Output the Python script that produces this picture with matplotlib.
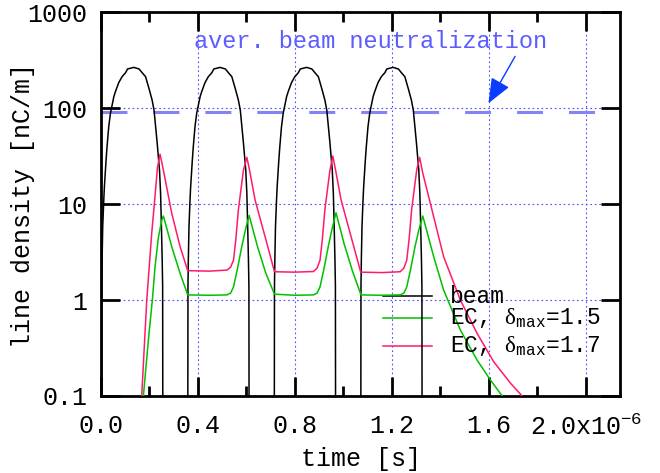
import numpy as np
import matplotlib
matplotlib.use("Agg")
import matplotlib.pyplot as plt

plt.rcParams['font.family'] = ['Liberation Mono', 'DejaVu Sans']
plt.rcParams['mathtext.fontset'] = 'custom'
plt.rcParams['mathtext.rm'] = 'Liberation Mono'
plt.rcParams['mathtext.sf'] = 'Liberation Serif'

# beam: one bunch profile (offset from bunch start in us, nC/m) and bunch starts
bunch_start = [0.002, 0.358, 0.715, 1.072]
bunch_offset = [0.0, 0.001, 0.0025, 0.0052, 0.0095, 0.012, 0.019, 0.023, 0.030,
                0.037, 0.051, 0.0576, 0.0714, 0.085, 0.0994, 0.1076, 0.1335,
                0.1553, 0.168, 0.182, 0.196, 0.209, 0.217, 0.230, 0.2395,
                0.244, 0.247, 0.2505, 0.2525, 0.2535]
bunch_profile = [0.01, 1.4, 2.6, 5.8, 11, 15, 28.7, 39.5, 64,
                 88, 131, 148, 184, 212, 233, 255, 265,
                 255, 233, 212, 160, 121, 95, 43, 22.6,
                 12.9, 6.5, 2.7, 1.4, 0.01]

# electron cloud, delta_max = 1.5 (time in us, nC/m)
ec15_t = [0.175, 0.1955, 0.212, 0.223, 0.237, 0.251, 0.2575,
          0.292, 0.326, 0.358, 0.45, 0.52, 0.535, 0.547, 0.563, 0.581, 0.597, 0.6115,
          0.646, 0.680, 0.716, 0.80, 0.877, 0.892, 0.904, 0.920, 0.938, 0.955, 0.970,
          1.004, 1.038, 1.073, 1.16, 1.235, 1.250, 1.262, 1.278, 1.296, 1.312, 1.328,
          1.373, 1.414, 1.483, 1.552, 1.607, 1.656, 1.68]
ec15_v = [0.1, 0.38, 1.0, 2.2, 4.5, 6.8, 7.5,
          3.6, 1.91, 1.13, 1.12, 1.13, 1.18, 1.37, 2.1, 3.6, 5.5, 7.6,
          3.6, 1.91, 1.15, 1.12, 1.13, 1.18, 1.37, 2.1, 3.6, 5.7, 8.1,
          3.8, 2.0, 1.13, 1.12, 1.13, 1.18, 1.37, 2.1, 3.6, 5.4, 7.5,
          2.83, 1.27, 0.487, 0.237, 0.147, 0.1, 0.08]

# electron cloud, delta_max = 1.7
ec17_t = [0.168, 0.189, 0.2095, 0.223, 0.233, 0.2438,
          0.2575, 0.292, 0.3264, 0.358, 0.45, 0.52, 0.535, 0.547, 0.557, 0.567, 0.588, 0.602,
          0.614, 0.636, 0.680, 0.716, 0.80, 0.877, 0.892, 0.904, 0.914, 0.924, 0.945, 0.957,
          0.969, 0.991, 1.035, 1.072, 1.16, 1.235, 1.250, 1.262, 1.272, 1.282, 1.303, 1.315,
          1.328, 1.359, 1.414, 1.483, 1.552, 1.621, 1.690, 1.738, 1.76]
ec17_v = [0.1, 1.0, 5.0, 12, 24, 33,
          22.6, 8.0, 3.6, 2.02, 2.0, 2.05, 2.2, 2.6, 4.4, 8.7, 22.6, 30.6,
          22, 11, 4.3, 1.97, 1.95, 1.98, 2.15, 2.6, 4.4, 8.7, 22.6, 31.6,
          22, 11, 4.3, 1.95, 1.93, 1.97, 2.15, 2.6, 4.4, 8.7, 22.6, 30.6,
          21, 10.2, 2.83, 1.0, 0.45, 0.227, 0.136, 0.1, 0.08]

aver_neutral = 90.0
x_ticks = [0.0, 0.4, 0.8, 1.2, 1.6, 2.0]
x_labels = ['0.0', '0.4', '0.8', '1.2', '1.6', '2.0x10$^{-6}$']
y_ticks = [0.1, 1, 10, 100, 1000]
y_labels = ['0.1', '1', '10', '100', '1000']

us = 1e-6
beam_t, beam_v = [], []
for s in bunch_start:
    beam_t += [s + o for o in bunch_offset]
    beam_v += bunch_profile
beam_t = np.array(beam_t) * us
beam_v = np.array(beam_v)

fig = plt.figure(figsize=(6.6, 4.73), dpi=100)
ax = fig.add_axes([0.153, 0.1628, 0.7864, 0.8118])
ax.set_yscale('log')
ax.set_xlim(0, 2.142 * us)
ax.set_ylim(0.1, 1000)

ax.grid(True, which='major', color='#4d4dff', linestyle=(0, (1.5, 2.5)), lw=0.8)
ax.set_axisbelow(True)

ax.axhline(aver_neutral, color='#8484f4', lw=2.2, linestyle=(0, (8.5, 8.5)), zorder=2)
ax.text(0.384 * us, 490, 'aver. beam neutralization', color='#5c5cff',
        fontsize=17, va='center', ha='left')
ax.annotate('', xy=(1.599 * us, 112), xytext=(1.709 * us, 345),
            arrowprops=dict(arrowstyle='-|>,head_length=1.1,head_width=0.45',
                            mutation_scale=14, color='#0a3cff', lw=1.0,
                            shrinkA=0, shrinkB=0))

ax.plot(beam_t, beam_v, color='black', lw=1.1, zorder=3)
ax.plot(np.array(ec15_t) * us, ec15_v, color='#00c000', lw=1.1, zorder=3)
ax.plot(np.array(ec17_t) * us, ec17_v, color='#ff1a6c', lw=1.1, zorder=3)

# legend drawn by hand, like the gnuplot key
leg = [('beam', 'black', 0.260),
       (r'EC, $\mathsf{δ}_{\mathrm{max}}$=1.5', '#00c000', 0.203),
       (r'EC, $\mathsf{δ}_{\mathrm{max}}$=1.7', '#ff1a6c', 0.130)]
for lab, col, yy in leg:
    ax.plot([0.543, 0.638], [yy, yy], color=col, lw=1.1, transform=ax.transAxes)
    ax.text(0.672, yy, lab, transform=ax.transAxes, fontsize=16.5, va='center', ha='left')

ax.set_xticks([t * us for t in x_ticks])
ax.set_xticklabels(x_labels)
ax.set_xticks(np.array([0.2, 0.6, 1.0, 1.4, 1.8]) * us, minor=True)
ax.set_yticks(y_ticks)
ax.set_yticklabels(y_labels)
ax.yaxis.set_minor_locator(matplotlib.ticker.NullLocator())
ax.tick_params(which='both', direction='in', top=True, right=True, width=2, labelsize=18)
ax.tick_params(which='major', length=14)
ax.tick_params(which='minor', length=7)
ax.tick_params(axis='x', pad=13)
ax.tick_params(axis='y', pad=10)
for sp in ax.spines.values():
    sp.set_linewidth(2)

fig.text(361 / 660, 1 - 459 / 473, 'time [s]', fontsize=18, ha='center', va='center')
fig.text(23 / 660, 1 - 205 / 473, 'line density [nC/m]', fontsize=18,
         ha='center', va='center', rotation=90)

fig.savefig('out.png', dpi=100)
